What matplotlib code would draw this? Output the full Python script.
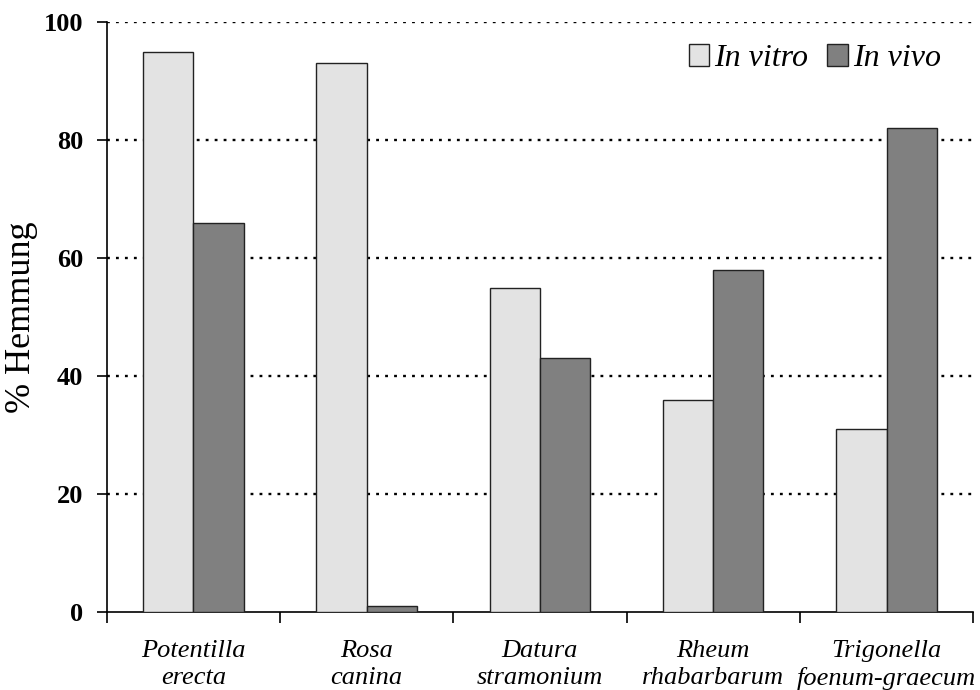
import matplotlib
matplotlib.use("Agg")
import matplotlib.pyplot as plt
import numpy as np

categories = ["Potentilla\nerecta", "Rosa\ncanina", "Datura\nstramonium",
              "Rheum\nrhabarbarum", "Trigonella\nfoenum-graecum"]
in_vitro = [95, 93, 55, 36, 31]
in_vivo = [66, 1, 43, 58, 82]
yticks = [0, 20, 40, 60, 80, 100]

plt.rcParams['font.family'] = ['Liberation Serif', 'DejaVu Serif']

fig = plt.figure(figsize=(9.8, 6.9), dpi=100)
ax = fig.add_axes([0.109, 0.113, 0.884, 0.855])

x = np.arange(len(categories))
w = 0.29
ax.bar(x - w/2, in_vitro, w, color='#e3e3e3', edgecolor='#222222', linewidth=1.0,
       label='In vitro', zorder=3)
ax.bar(x + w/2, in_vivo, w, color='#808080', edgecolor='#222222', linewidth=1.0,
       label='In vivo', zorder=3)

ax.set_xlim(-0.5, len(categories) - 0.5)
ax.set_ylim(0, 100)

for yv in yticks[1:]:
    ax.axhline(yv, color='black', linewidth=1.7, linestyle=(0, (1.2, 2.6)), zorder=1)

ax.set_yticks(yticks)
ax.set_yticklabels([str(v) for v in yticks], fontsize=19, fontweight='bold')
ax.tick_params(axis='y', length=7, width=1.2, pad=10)

ax.set_xticks(np.arange(-0.5, len(categories), 1.0))
ax.set_xticklabels([])
ax.tick_params(axis='x', which='major', length=8, width=1.2)
ax.set_xticks(x, minor=True)
ax.set_xticklabels(categories, minor=True, fontsize=19, fontstyle='italic',
                   linespacing=1.3)
ax.tick_params(axis='x', which='minor', length=0, pad=20)

for s in ['top', 'right']:
    ax.spines[s].set_visible(False)
for s in ['left', 'bottom']:
    ax.spines[s].set_linewidth(1.2)

ax.set_ylabel('% Hemmung', fontsize=26, labelpad=4)

leg = ax.legend(loc='upper right', bbox_to_anchor=(0.985, 0.995), ncol=2, frameon=False,
                prop={'size': 23, 'style': 'italic'}, handlelength=0.65, handleheight=0.65,
                handletextpad=0.15, columnspacing=0.6, borderaxespad=0.2)

fig.savefig('out.png', dpi=100)
